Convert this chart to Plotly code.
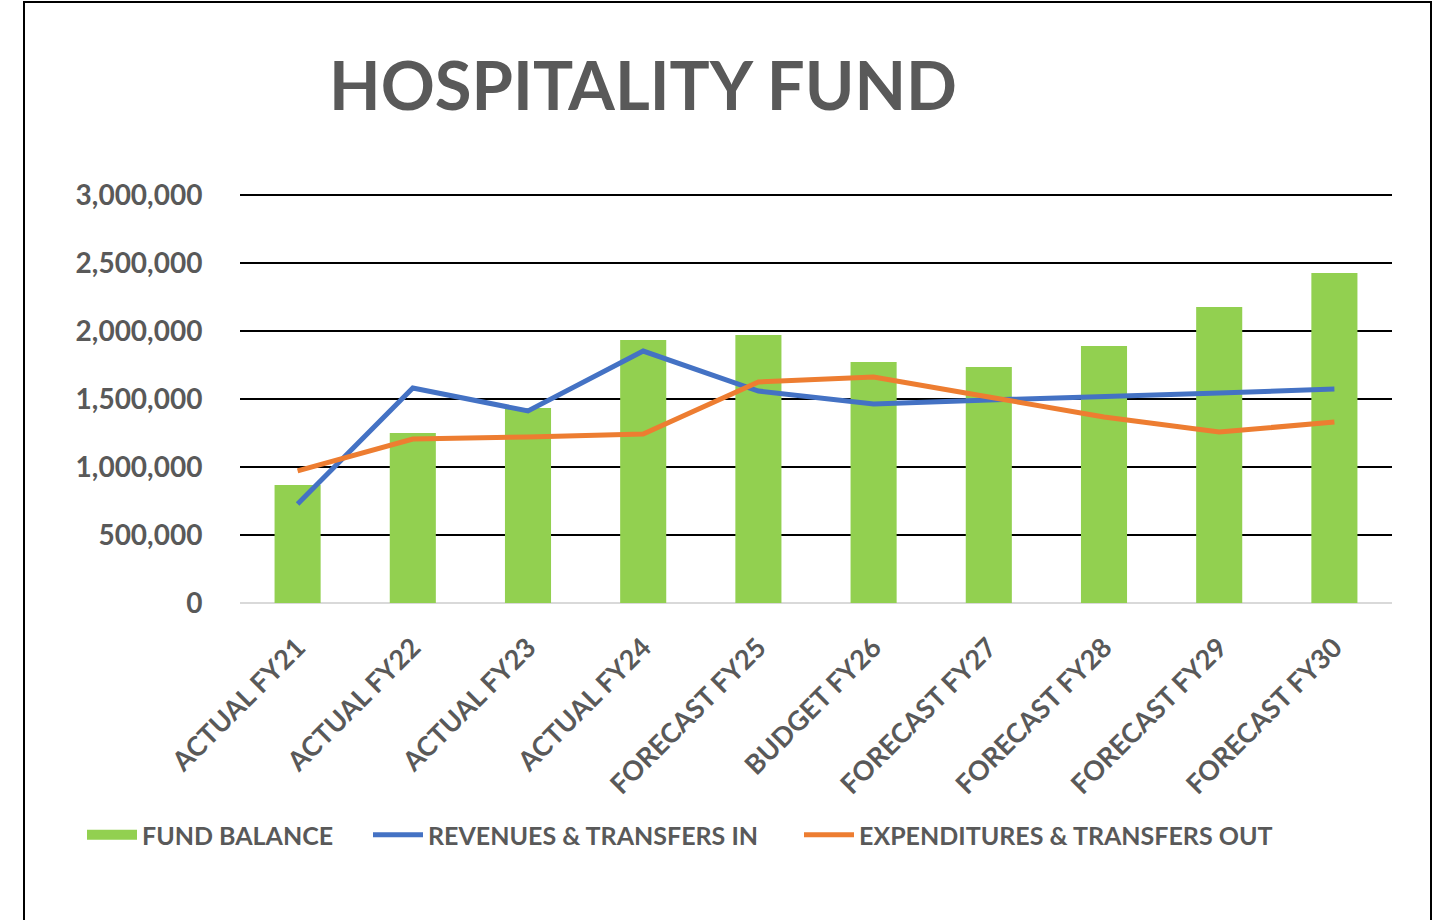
import plotly.graph_objects as go

categories = ["ACTUAL FY21", "ACTUAL FY22", "ACTUAL FY23", "ACTUAL FY24", "FORECAST FY25",
              "BUDGET FY26", "FORECAST FY27", "FORECAST FY28", "FORECAST FY29", "FORECAST FY30"]
fund_balance = [868000, 1250000, 1434000, 1934000, 1971000, 1772000, 1735000, 1890000, 2176000, 2426000]
revenues = [728000, 1581000, 1412000, 1853000, 1559000, 1463000, 1493000, 1515000, 1544000, 1574000]
expenditures = [971000, 1206000, 1221000, 1243000, 1625000, 1662000, 1515000, 1368000, 1257000, 1331000]
y_ticks = [0, 500000, 1000000, 1500000, 2000000, 2500000, 3000000]

FONT = "Lato"
GREY = "#595959"
GREEN = "#92d050"
BLUE = "#4472c4"
ORANGE = "#ed7d31"

fig = go.Figure()
fig.add_trace(go.Bar(x=categories, y=fund_balance, name="FUND BALANCE", showlegend=False,
                     marker=dict(color=GREEN, line=dict(width=0))))
# legend swatch for the bars (wide rectangle as in the original)
fig.add_trace(go.Scatter(x=[None], y=[None], name="FUND BALANCE", mode="lines",
                         line=dict(color=GREEN, width=14), legend="legend"))
fig.add_trace(go.Scatter(x=categories, y=revenues, name="REVENUES & TRANSFERS IN",
                         mode="lines", line=dict(color=BLUE, width=5), legend="legend2"))
fig.add_trace(go.Scatter(x=categories, y=expenditures, name="EXPENDITURES & TRANSFERS OUT",
                         mode="lines", line=dict(color=ORANGE, width=5), legend="legend3"))

W, H = 1438, 920
L, R, T, B = 240, 46, 193, 317
pw, ph = W - L - R, H - T - B

def px(x):
    return (x - L) / pw

def py(y):
    return (H - B - y) / ph

legend_font = dict(family=FONT, size=25, color=GREY, weight="bold")

def leg(x):
    return dict(orientation="h", x=px(x), xanchor="left", y=py(835), yanchor="middle",
                font=legend_font, itemwidth=50, bgcolor="rgba(0,0,0,0)")

fig.update_layout(
    width=W, height=H,
    margin=dict(l=L, r=R, t=T, b=B),
    paper_bgcolor="white", plot_bgcolor="white",
    font=dict(family=FONT, color=GREY),
    bargap=0.6,
    title=dict(text="<b>HOSPITALITY FUND</b>", x=643 / W, xanchor="center",
               y=1 - 87 / H, yanchor="middle",
               font=dict(family=FONT, size=67, color=GREY)),
    xaxis=dict(showgrid=False, showline=False, zeroline=False,
               tickangle=-45, ticks="outside", ticklen=17, tickcolor="rgba(0,0,0,0)",
               tickfont=dict(family=FONT, size=27, color=GREY, weight="bold")),
    yaxis=dict(range=[0, 3015000], tickvals=y_ticks,
               ticktext=[f"{v:,}" for v in y_ticks],
               showgrid=True, gridcolor="black", gridwidth=2,
               zeroline=True, zerolinecolor="#d9d9d9", zerolinewidth=2,
               showline=False, ticks="outside", ticklen=31, tickcolor="rgba(0,0,0,0)",
               tickfont=dict(family=FONT, size=28, color=GREY, weight="bold")),
    legend=leg(82),
    legend2=leg(368),
    legend3=leg(799),
    shapes=[dict(type="rect", xref="paper", yref="paper",
                 x0=px(24), x1=px(1431), y0=py(940), y1=py(2),
                 line=dict(color="black", width=2), layer="below")],
    showlegend=True,
)

fig.write_html("out.html", config={"displayModeBar": False},
               post_script="document.body.style.margin='0';")
